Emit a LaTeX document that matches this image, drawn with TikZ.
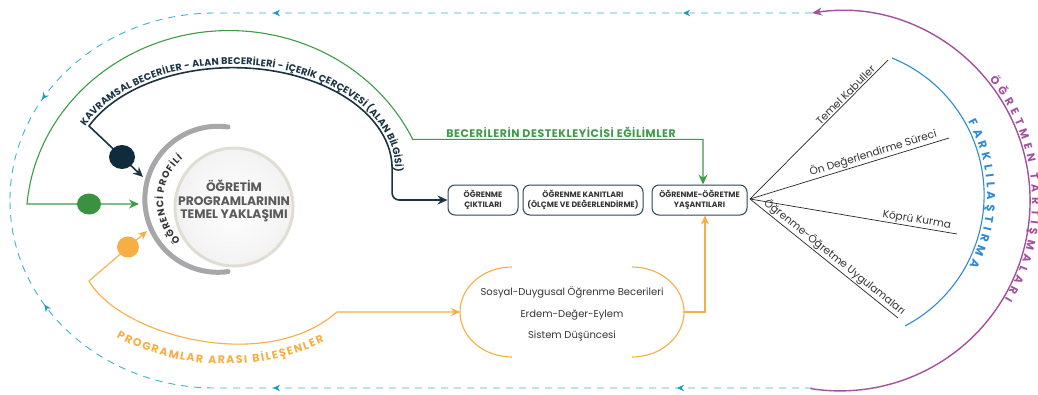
\documentclass[tikz,border=0pt]{standalone}
\usepackage{fontspec}
\setmainfont{Poppins}
\newfontfamily\spacedfont[LetterSpace=5]{Poppins}
\usetikzlibrary{arrows.meta,decorations.text,decorations.markings,shapes.geometric}
\definecolor{navy}{HTML}{1B3443}
\definecolor{navydot}{HTML}{0E2C3C}
\definecolor{grn}{HTML}{3E9B46}
\definecolor{grndot}{HTML}{3A9140}
\definecolor{orng}{HTML}{F7AE43}
\definecolor{cyn}{HTML}{3DB2D4}
\definecolor{cynarr}{HTML}{1A9CC0}
\definecolor{purp}{HTML}{A3519C}
\definecolor{blu}{HTML}{2E8BD0}
\definecolor{profgray}{HTML}{A7A7A9}
\definecolor{txtdark}{HTML}{353535}
\definecolor{boxline}{HTML}{2A4657}
\definecolor{coretext}{HTML}{5A5A5A}
\definecolor{ring}{HTML}{E0DED3}
\tikzset{
  loopline/.style={draw=cyn, line width=0.9pt, dash pattern=on 7pt off 6pt},
  navyline/.style={draw=navy, line width=1.6pt},
  grnline/.style={draw=grn, line width=1.1pt},
  orline/.style={draw=orng, line width=1.1pt},
  stepbox/.style={draw=boxline, line width=1pt, rounded corners=7pt, minimum height=30pt,
    inner sep=2pt, align=center, font=\fontsize{7.8}{9.5}\selectfont\bfseries, text=txtdark},
  fanline/.style={draw=black!85, line width=0.7pt},
  fanlabel/.style={sloped, above, inner sep=1.2pt, font=\fontsize{10.6}{13}\selectfont, text=txtdark},
  blob/.style={ellipse, inner sep=0, draw=none}
}
\begin{document}
\begin{tikzpicture}[x=1pt,y=-1pt]
\fill[white] (0,0) rectangle (1038,394);
\useasboundingbox (0,0) rectangle (1038,394);

% outer dashed loop
\coordinate (lt) at (812,13);
\coordinate (lb) at (812,388);
\draw[loopline, postaction={decorate, decoration={markings,
   mark=at position 129pt with {\arrow[cynarr]{Stealth[length=7pt,width=6.5pt]}},
   mark=at position 539pt with {\arrow[cynarr]{Stealth[length=7pt,width=6.5pt]}},
   mark=at position 798pt with {\arrow[cynarr]{Stealth[length=7pt,width=6.5pt]}}}}]
  (lt) -- (215,13) arc[start angle=270, end angle=180, x radius=205, y radius=187];
\draw[loopline, postaction={decorate, decoration={markings,
   mark=at position 135pt with {\arrow[cynarr]{Stealth[length=7pt,width=6.5pt]}},
   mark=at position 539pt with {\arrow[cynarr]{Stealth[length=7pt,width=6.5pt]}},
   mark=at position 794pt with {\arrow[cynarr]{Stealth[length=7pt,width=6.5pt]}}}}]
  (lb) -- (215,388) arc[start angle=90, end angle=180, x radius=205, y radius=187];

% purple arc
\draw[purp, line width=1.4pt, {Stealth[length=10pt,width=8pt]}-] (lt) arc[start angle=261.5, end angle=459, radius=190];
\path[decorate, decoration={text along path, text align=fit to path,
  text={|\fontsize{11}{14}\selectfont\bfseries\color{purp}|ÖĞRETMEN TARTIŞMALARI}}]
  (989.2,79.2) arc[start angle=-39, end angle=31, radius=192];

% blue arc
\draw[blu, line width=1.1pt] (892,58) arc[start angle=292.2, end angle=422.2, radius=148];
\path[decorate, decoration={text along path, text align=fit to path,
  text={|\fontsize{11.5}{13}\selectfont\bfseries\color{blu}|FARKLILAŞTIRMA}}]
  (968.1,121.8) arc[start angle=-29, end angle=28, radius=151];

% boxes
\node[stepbox, minimum width=70pt] (bA) at (483,200) {ÖĞRENME\\ÇIKTILARI};
\node[stepbox, minimum width=120pt] (bB) at (583,200) {ÖĞRENME KANITLARI\\(ÖLÇME VE DEĞERLENDİRME)};
\node[stepbox, minimum width=95pt] (bC) at (699.5,200) {ÖĞRENME-ÖĞRETME\\YAŞANTILARI};

% fan
\coordinate (fan) at (750,199);
\draw[fanline] (fan) -- (888,60) node[fanlabel, pos=0.72] {Temel Kabuller};
\draw[fanline] (fan) -- (949,138) node[fanlabel, pos=0.63] {Ön Değerlendirme Süreci};
\draw[fanline] (fan) -- (957,234) node[fanlabel, pos=0.8] {Köprü Kurma};
\draw[fanline] (fan) -- (898,318) node[fanlabel, pos=0.54] {Öğrenme-Öğretme Uygulamaları};

% core circle and learner profile
\node[circle, minimum size=118pt, inner sep=0, draw=ring, line width=3pt, inner color=white, outer color=black!5] (core) at (234,207) {};
\node[font=\fontsize{12.3}{13.8}\selectfont\bfseries, text=coretext, align=center] (coreTxt) at (234,201) {ÖĞRETİM\\PROGRAMLARININ\\TEMEL YAKLAŞIMI};
\draw[profgray, line width=5pt, line cap=round] (228,127) arc[start angle=278, end angle=82, radius=73];
\path[decorate, decoration={text along path, text align=fit to path,
  text={|\fontsize{9.5}{11}\selectfont\bfseries\color{txtdark}|ÖĞRENCİ PROFİLİ}}]
  (180.7,240.8) arc[start angle=133, end angle=230, radius=55];

% navy connector
\coordinate (nTip) at (143,177);
\coordinate (nBend) at (89,126);
\draw[navyline, {Stealth[length=10pt,width=9pt]}-{Stealth[length=10pt,width=9pt]}]
  (nTip) -- (nBend) arc[start angle=205, end angle=360, x radius=159, y radius=101] [rounded corners=7pt] |- (bA.west);
\node[blob, fill=navydot, minimum width=26pt, minimum height=24pt] (nDot) at (122,157) {};
\path[decorate, decoration={text along path, text align=fit to path,
  text={|\fontsize{9.6}{11}\selectfont\bfseries\color{navy}|KAVRAMSAL BECERİLER - ALAN BECERİLERİ - İÇERİK ÇERÇEVESİ (ALAN BİLGİSİ)}}]
  (85.1,126.4) arc[start angle=204, end angle=362, x radius=162, y radius=104];

% green connector
\coordinate (gTip) at (139,204);
\draw[grnline, {Stealth[length=10pt,width=9pt]}-{Stealth[length=10pt,width=9pt]}]
  (gTip) -- (27,204) arc[start angle=185, end angle=334.7, x radius=203, y radius=190] -| ([xshift=3.5pt]bC.north);
\node[blob, fill=grndot, minimum width=24pt, minimum height=21pt] (gDot) at (89,204) {};
\node[font=\fontsize{11}{13}\spacedfont\bfseries, text=grn] (gLab) at (561,132) {BECERİLERİN DESTEKLEYİCİSİ EĞİLİMLER};

% orange connector and components
\node[font=\fontsize{10}{21.5}\selectfont, text=txtdark, align=center] (sel) at (572,314) {Sosyal-Duygusal Öğrenme Becerileri\\Erdem-Değer-Eylem\\Sistem Düşüncesi};
\draw[orline] (512,267) arc[start angle=270, end angle=90, x radius=52, y radius=45];
\draw[orline] (632,267) arc[start angle=270, end angle=450, x radius=52, y radius=45];
\coordinate (selL) at (460,312);
\coordinate (selR) at (684,312);
\coordinate (oTip) at (147,231);
\draw[orline, {Stealth[length=9pt,width=8pt]}-{Stealth[length=9pt,width=8pt]}]
  (oTip) -- (89,281) .. controls (120,335) and (265,375) .. (337,312) -- (selL);
\draw[orline, -{Stealth[length=9pt,width=8pt]}] (selR) -| ([xshift=5.5pt]bC.south);
\node[blob, fill=orng, minimum width=22pt, minimum height=21pt] (oDot) at (128,247) {};
\path[decorate, decoration={text along path, text align=fit to path,
  text={|\fontsize{11}{13}\selectfont\bfseries\color{orng}|PROGRAMLAR ARASI BİLEŞENLER}}]
  (116.5,337.4) arc[start angle=117.5, end angle=65, radius=235];
\end{tikzpicture}
\end{document}
